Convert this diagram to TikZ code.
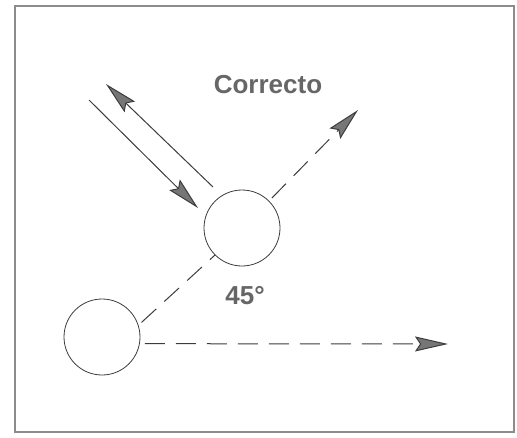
\documentclass[tikz,border=0pt]{standalone}
\usepackage{fontspec}
\setsansfont{Liberation Sans}
\usetikzlibrary{arrows.meta,positioning}
\definecolor{ink}{HTML}{3C3C3C}
\definecolor{rim}{HTML}{8C8C8C}
\definecolor{tag}{HTML}{666666}
\begin{document}
\begin{tikzpicture}[x=1pt,y=-1pt,
    ball/.style={draw=ink,circle,minimum size=76pt,inner sep=0pt,line width=.8pt},
    ray/.style={draw=ink,line width=1pt,-{Stealth[length=33pt,width=15pt,inset=5pt,fill=ink!70]}},
    dashray/.style={ray,dash pattern=on 20pt off 11pt},
    every node/.style={font=\sffamily\bfseries\fontsize{26}{29}\selectfont,text=tag}]
    \useasboundingbox (0,0) rectangle (517,437);
    \draw[rim,line width=2.5pt] (15,6) rectangle (514,432);
    \node[ball] (lo) at (102,337) {};
    \node[ball] (up) at (242,228) {};
    \node (tt) at (268,85) {Correcto};
    \node (ang) at (245,296) {45°};
    \coordinate (o1) at (358,110);
    \coordinate (o2) at (448,344);
    \coordinate (in) at (89,100);
    \coordinate (back) at (106,84);
    \coordinate (hit) at (198,208);
    \coordinate (leave) at (213,187);
    \draw[ink,line width=1pt,dash pattern=on 20pt off 11pt,shorten <=4pt] (lo.18) -- (up.225);
    \draw[dashray,shorten <=4pt] (up.45) -- (o1);
    \draw[dashray,shorten <=5pt] (lo.-10) -- (o2);
    \draw[ray] (in) -- (hit);
    \draw[ray] (leave) -- (back);
\end{tikzpicture}
\end{document}
